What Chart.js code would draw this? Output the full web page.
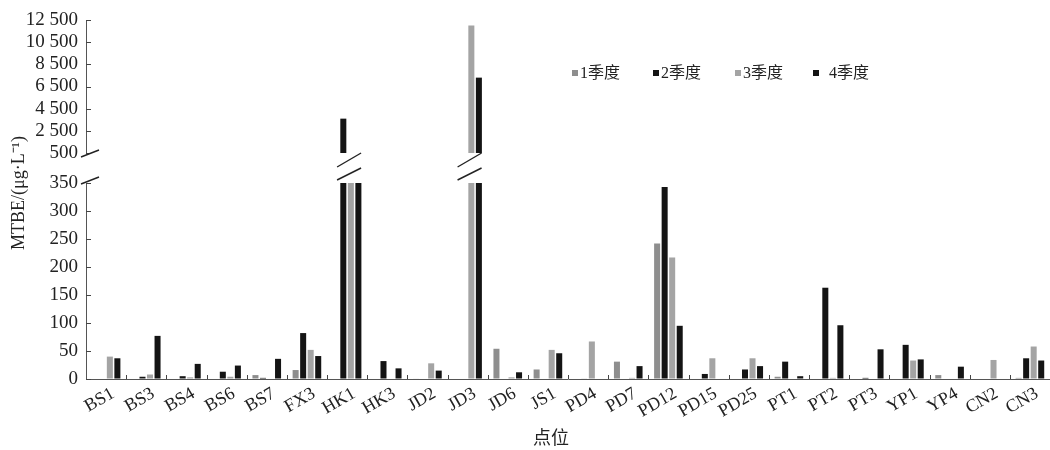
<!DOCTYPE html>
<html>
<head>
<meta charset="utf-8">
<script src="https://cdn.jsdelivr.net/npm/chart.js@4.4.1/dist/chart.umd.min.js"></script>
<style>
  html, body { margin: 0; padding: 0; background: #fff; }
  #wrap { position: relative; width: 1050px; height: 450px; }
  .legend-item { position: absolute; top: 63px; font: 16px 'Liberation Serif', 'Noto Sans CJK SC', serif; color: #222; white-space: nowrap; line-height: 20px; }
  .legend-item i { display: inline-block; width: 6px; height: 6px; margin-right: 2px; vertical-align: middle; position: relative; top: -1px; }
</style>
</head>
<body>
<div id="wrap">
  <canvas id="mtbeChart"></canvas>
</div>
<script>
// sampling sites
const sites = ['BS1', 'BS3', 'BS4', 'BS6', 'BS7', 'FX3', 'HK1', 'HK3', 'JD2', 'JD3', 'JD6', 'JS1',
  'PD4', 'PD7', 'PD12', 'PD15', 'PD25', 'PT1', 'PT2', 'PT3', 'YP1', 'YP4', 'CN2', 'CN3'];

// MTBE (μg/L) per quarter
const q1 = [0, 0, 0, 0, 7, 16, 0, 0, 1, 0, 54, 17, 0, 31, 242, 0, 0, 4, 0, 0, 0, 7, 0, 2];
const q2 = [0, 4, 5, 13, 2, 82, 3600, 32, 0, 0, 0, 0, 1, 0, 343, 9, 17, 31, 163, 2, 61, 0, 0, 37];
const q3 = [40, 8, 3, 4, 0, 52, 420, 0, 28, 12000, 3, 52, 67, 2, 217, 37, 37, 0, 2, 0, 33, 0, 34, 58];
const q4 = [37, 77, 27, 24, 36, 41, 400, 19, 15, 7300, 12, 46, 0, 23, 95, 0, 23, 5, 96, 53, 35, 22, 0, 33];

const quarterNames = ['1季度', '2季度', '3季度', '4季度'];
const quarterColors = ['#8e8e8e', '#141414', '#a4a4a4', '#141414'];

// broken y axis: upper and lower parts
const upperTicks = [500, 2500, 4500, 6500, 8500, 10500, 12500];
const lowerTicks = [0, 50, 100, 150, 200, 250, 300, 350];

const serif = '"Liberation Serif", "Noto Sans CJK SC", serif';
Chart.defaults.font.family = serif;
Chart.defaults.color = '#222';

const series = [q1, q2, q3, q4];
const datasets = [];
['yLow', 'yTop'].forEach(axisId => {
  series.forEach((vals, i) => {
    datasets.push({
      label: quarterNames[i],
      data: vals,
      backgroundColor: quarterColors[i],
      yAxisID: axisId,
      stack: 'q' + i,
      categoryPercentage: 0.75,
      barPercentage: 0.8
    });
  });
});

const fmt = v => String(v).replace(/\B(?=(\d{3})+(?!\d))/g, ' ');

// clip each dataset to its own part of the broken axis, then draw the extras
const breakAxis = {
  id: 'breakAxis',
  beforeDatasetDraw(chart, args) {
    const s = chart.scales[args.meta.yAxisID];
    const ctx = chart.ctx;
    ctx.save();
    ctx.beginPath();
    ctx.rect(chart.chartArea.left, s.top, chart.chartArea.width, s.bottom - s.top);
    ctx.clip();
  },
  afterDatasetDraw(chart) {
    chart.ctx.restore();
  },
  afterDraw(chart) {
    const ctx = chart.ctx;
    const { x, yTop, yLow } = chart.scales;
    const ax = chart.chartArea.left;
    const line = (x1, y1, x2, y2) => { ctx.beginPath(); ctx.moveTo(x1, y1); ctx.lineTo(x2, y2); ctx.stroke(); };

    ctx.save();
    ctx.strokeStyle = '#444';
    ctx.lineWidth = 1;
    // inward ticks on the y axis
    [yTop, yLow].forEach(s => {
      s.ticks.forEach(t => {
        const py = Math.round(s.getPixelForValue(t.value)) + 0.5;
        line(ax, py, ax + 5, py);
      });
    });
    // small ticks between sites
    const step = x.width / sites.length;
    for (let i = 1; i < sites.length; i++) {
      const px = Math.round(x.left + i * step) + 0.5;
      line(px, x.top, px, x.top - 4);
    }

    // break marks on the axis
    ctx.lineWidth = 1.4;
    ctx.strokeStyle = '#222';
    line(ax - 5, yTop.bottom + 4, ax + 13, yTop.bottom - 3);
    line(ax - 5, yLow.top + 1, ax + 13, yLow.top - 6);

    // break marks across the tall bars
    const cut = lowerTicks[lowerTicks.length - 1];
    sites.forEach((s, i) => {
      if (series.some(v => v[i] > cut)) {
        const cx = x.getPixelForValue(i) + 2;
        const y1 = yTop.bottom + 7, y2 = yLow.top - 9;
        line(cx - 12, y1 + 7, cx + 12, y1 - 7);
        line(cx - 12, y2 + 6, cx + 12, y2 - 6);
      }
    });

    // axis titles
    ctx.fillStyle = '#222';
    ctx.font = '18px ' + serif;
    ctx.textAlign = 'center';
    ctx.textBaseline = 'middle';
    ctx.fillText('点位', 551, 439);
    ctx.translate(19, 193);
    ctx.rotate(-Math.PI / 2);
    ctx.fillText('MTBE/(μg·L⁻¹)', 0, 0);
    ctx.restore();
  }
};

const yCommon = {
  type: 'linear',
  position: 'left',
  stack: 'left',
  stacked: false,
  grid: { display: true, drawOnChartArea: false, drawTicks: false },
  border: { display: true, color: '#555', width: 1 },
  ticks: { font: { size: 19 }, color: '#222', padding: 8, autoSkip: false, callback: v => fmt(v) },
  afterFit: s => { s.width = 86; }
};

// left stacked axes are laid out in reverse key order: yTop ends up on top
new Chart(document.getElementById('mtbeChart'), {
  type: 'bar',
  data: { labels: sites, datasets },
  plugins: [breakAxis],
  options: {
    responsive: true,
    maintainAspectRatio: false,
    animation: false,
    layout: { padding: { top: 20, left: 0, right: 0, bottom: 0 } },
    plugins: { legend: { display: false }, tooltip: { enabled: false } },
    scales: {
      x: {
        type: 'category',
        grid: { display: true, drawOnChartArea: false, drawTicks: false },
        border: { display: true, color: '#555', width: 1 },
        ticks: { font: { size: 18 }, color: '#222', minRotation: 30, maxRotation: 30, autoSkip: false, labelOffset: 7, padding: 4 },
        afterFit: s => { s.height = 71; s.paddingLeft = 0; s.paddingRight = 0; }
      },
      yLow: Object.assign({}, yCommon, {
        min: lowerTicks[0], max: lowerTicks[lowerTicks.length - 1],
        stackWeight: 196,
        afterBuildTicks: s => { s.ticks = lowerTicks.map(v => ({ value: v })); }
      }),
      yGap: {
        type: 'linear', position: 'left', stack: 'left', stackWeight: 30,
        grid: { display: false }, border: { display: false }, ticks: { display: false },
        afterFit: s => { s.width = 86; }
      },
      yTop: Object.assign({}, yCommon, {
        min: upperTicks[0], max: upperTicks[upperTicks.length - 1],
        stackWeight: 133,
        afterBuildTicks: s => { s.ticks = upperTicks.map(v => ({ value: v })); }
      })
    }
  }
});

// legend
const legendLeft = [572, 653, 735, 813];
const wrap = document.getElementById('wrap');
quarterNames.forEach((name, i) => {
  const d = document.createElement('div');
  d.className = 'legend-item';
  d.style.left = legendLeft[i] + 'px';
  d.innerHTML = '<i style="background:' + quarterColors[i] + (i === 3 ? ';margin-right:10px' : '') + '"></i>' + name;
  wrap.appendChild(d);
});
</script>
</body>
</html>
